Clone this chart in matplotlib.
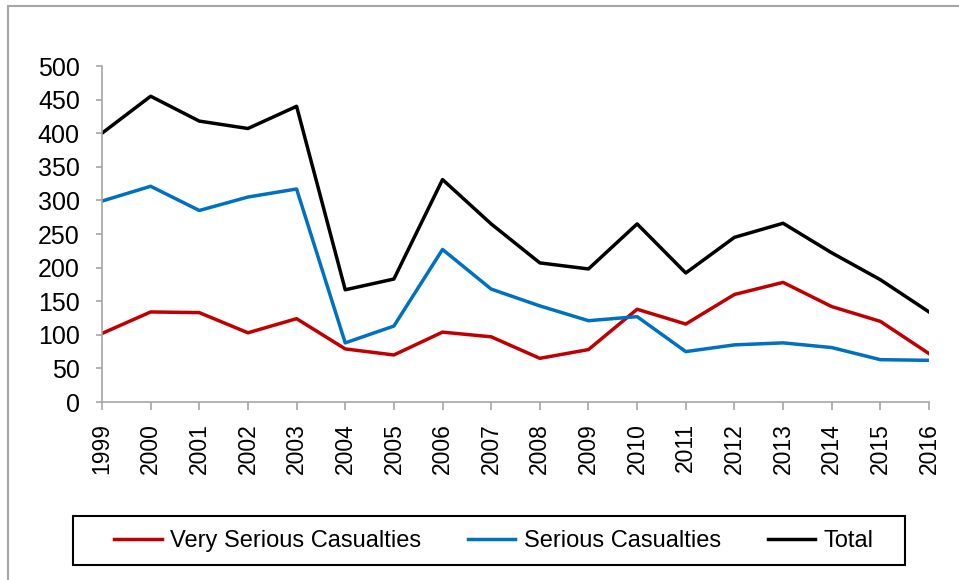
import matplotlib
matplotlib.use("Agg")
import matplotlib.pyplot as plt
from matplotlib.patches import Rectangle

plt.rcParams['font.family'] = ['Liberation Sans', 'DejaVu Sans']

# data
years = list(range(1999, 2017))
very_serious = [102, 134, 133, 103, 124, 79, 70, 104, 97, 65, 78, 138, 116, 160, 178, 142, 120, 72]
serious = [299, 321, 285, 305, 317, 88, 113, 227, 168, 143, 121, 127, 75, 85, 88, 81, 63, 62]
total = [400, 455, 418, 407, 440, 167, 183, 331, 265, 207, 198, 265, 192, 245, 266, 222, 182, 134]
y_ticks = [0, 50, 100, 150, 200, 250, 300, 350, 400, 450, 500]

fig = plt.figure(figsize=(9.59, 5.80), dpi=100)
ax = fig.add_axes([102/959, 1-402/580, (929-102)/959, (402-66)/580])

ax.plot(years, very_serious, color='#C00000', lw=2.5, label='Very Serious Casualties')
ax.plot(years, serious, color='#0070C0', lw=2.5, label='Serious Casualties')
ax.plot(years, total, color='black', lw=2.5, label='Total')

ax.set_xlim(1999, 2016)
ax.set_ylim(0, 500)
ax.set_yticks(y_ticks)
ax.set_xticks(years)
ax.set_xticklabels([str(y) for y in years], rotation=90)

axis_grey = '#a6a6a6'
for side in ['top', 'right']:
    ax.spines[side].set_visible(False)
for side in ['left', 'bottom']:
    ax.spines[side].set_color(axis_grey)
    ax.spines[side].set_linewidth(1.2)
ax.tick_params(axis='both', colors=axis_grey, labelcolor='black', width=1.2)
ax.tick_params(axis='y', length=4, pad=12, labelsize=18)
ax.tick_params(axis='x', length=6, pad=9, labelsize=16.5)

# outer chart border (cropped on the right and bottom)
fig.patches.append(Rectangle((8/959, -0.1), 1.2, 1 - 6/580 + 0.1, transform=fig.transFigure,
                             fill=False, edgecolor=axis_grey, lw=1.5))

# legend box drawn separately so it can be wider than its contents
fig.patches.append(Rectangle((73/959, 1-565/580), (905-73)/959, (565-516)/580,
                             transform=fig.transFigure, fill=False, edgecolor='black', lw=1.5))
leg = fig.legend(loc='center', bbox_to_anchor=(494/959, 1-541/580),
                 ncol=3, frameon=False, fontsize=17, handlelength=2.0,
                 handletextpad=0.35, columnspacing=2.0)

fig.savefig('out.png', dpi=100)
